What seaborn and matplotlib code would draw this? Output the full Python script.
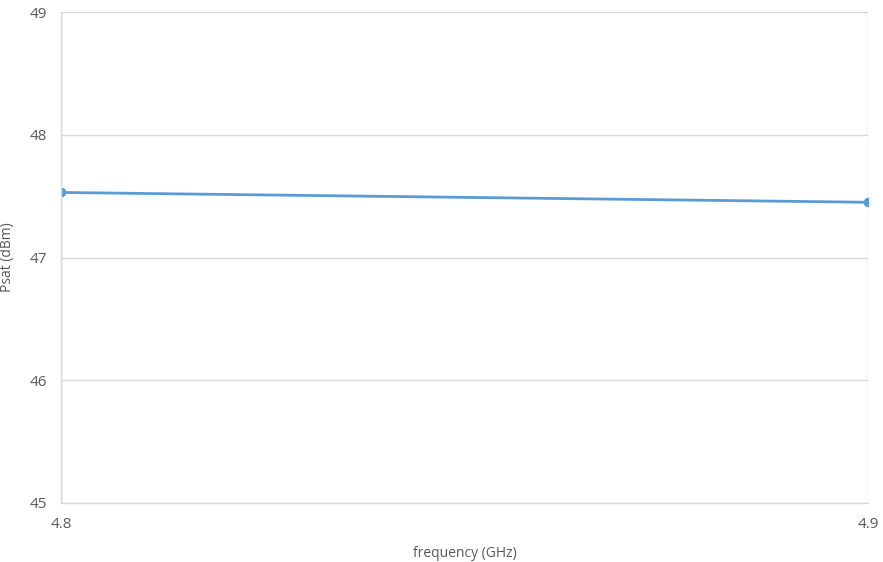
import pandas as pd
import seaborn as sns
import matplotlib.pyplot as plt

# data
frequency = [4.8, 4.9]
psat = [47.53, 47.45]

df = pd.DataFrame({'frequency (GHz)': frequency, 'Psat (dBm)': psat})

sns.set_style('white')
plt.rcParams['font.family'] = ['Open Sans', 'DejaVu Sans']

fig = plt.figure(figsize=(8.83, 5.62), dpi=100)
ax = fig.add_axes([0.0691, 0.105, 0.914, 0.8736])

sns.lineplot(data=df, x='frequency (GHz)', y='Psat (dBm)', ax=ax,
             color='#5B9BD5', linewidth=2, marker='o', markersize=7,
             markeredgewidth=0)

ax.set_xlim(4.8, 4.9)
ax.set_ylim(45, 49)
ax.set_xticks([4.8, 4.9])
ax.set_yticks([45, 46, 47, 48, 49])

ax.grid(True, color='#D9D9D9', linewidth=1)
ax.set_axisbelow(True)
for s in ['top', 'right']:
    ax.spines[s].set_visible(False)
for s in ['left', 'bottom']:
    ax.spines[s].set_color('#D9D9D9')
    ax.spines[s].set_linewidth(1)

ax.tick_params(axis='both', length=0, labelsize=11, labelcolor='#595959')
ax.tick_params(axis='y', pad=10)
ax.tick_params(axis='x', pad=10)
ax.set_xlabel('frequency (GHz)', fontsize=10, color='#595959', labelpad=10)
ax.set_ylabel('Psat (dBm)', fontsize=10, color='#595959')
ax.yaxis.set_label_coords(-0.057, 0.5)

fig.savefig('out.png', dpi=100)
